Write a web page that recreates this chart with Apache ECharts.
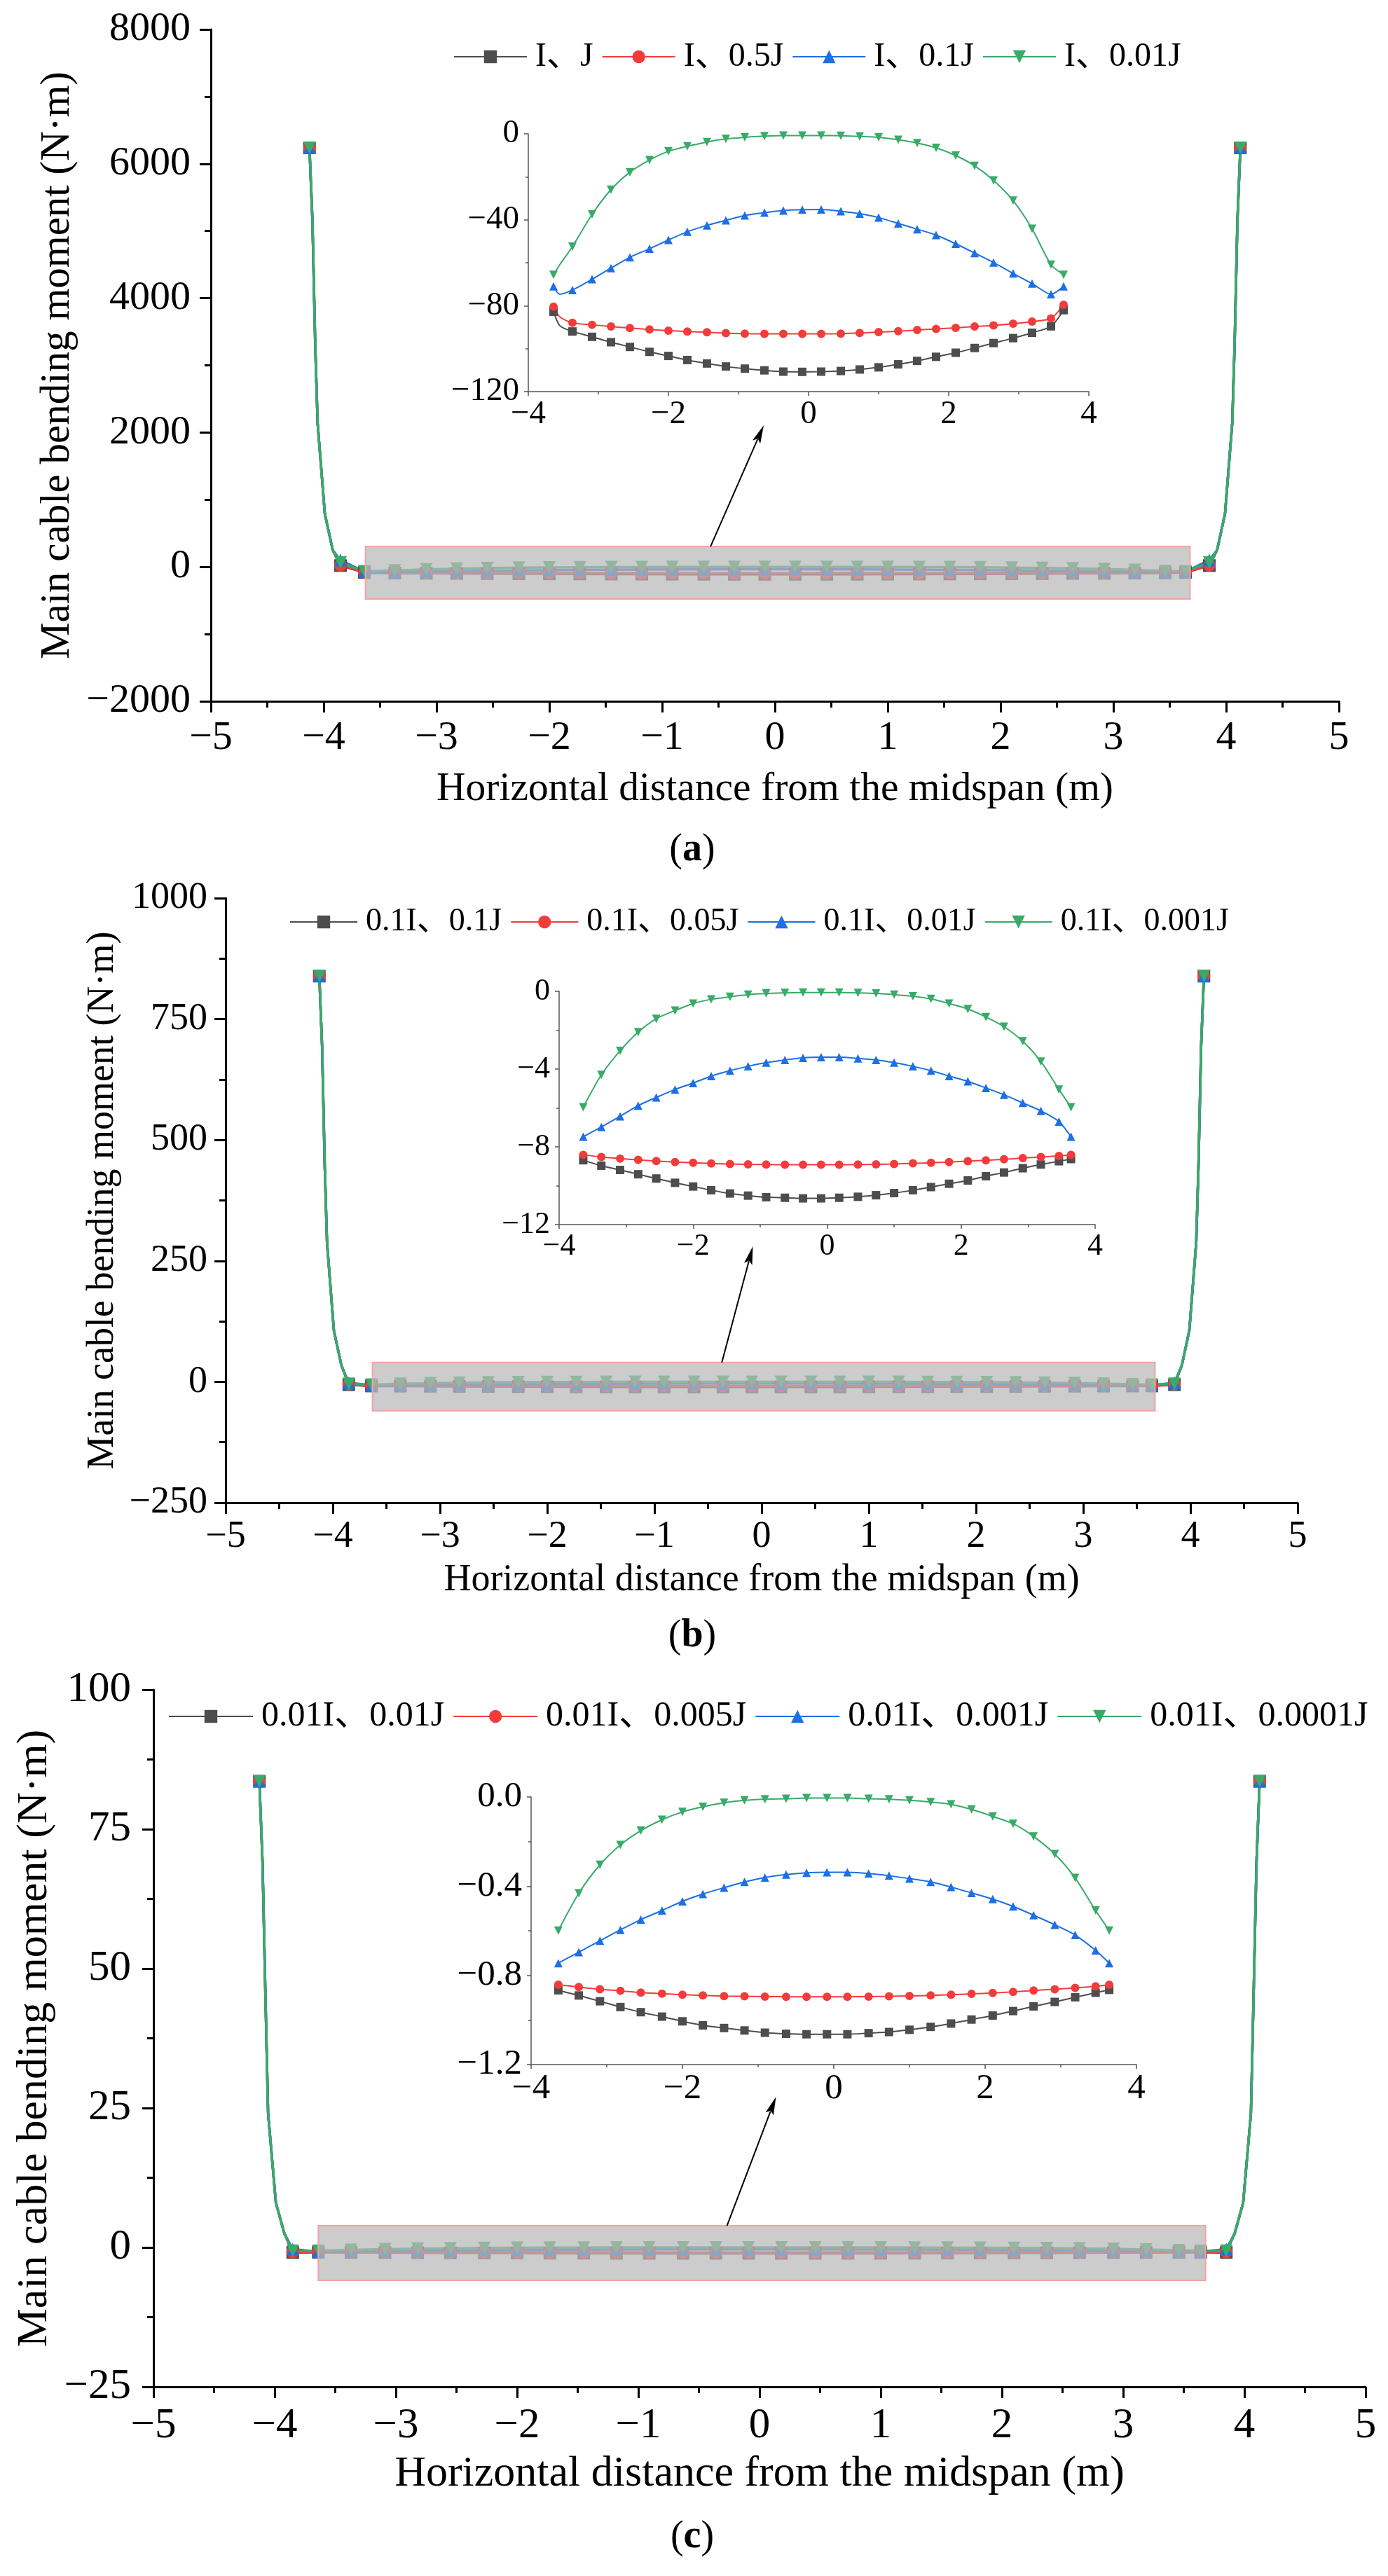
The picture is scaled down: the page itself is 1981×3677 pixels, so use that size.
<!DOCTYPE html>
<html>
<head>
<meta charset="utf-8">
<script src="https://cdn.jsdelivr.net/npm/echarts@6/dist/echarts.min.js"></script>
<style>
html, body { margin: 0; padding: 0; background: #fff; }
#chart { width: 1981px; height: 3677px; }
</style>
</head>
<body>
<div id="chart"></div>
<script>
// node positions along the span (m), shared by panels b and c
const xNodes = [-3.64, -3.37, -3.09, -2.82, -2.55, -2.27, -2.00, -1.73, -1.45, -1.18, -0.91, -0.63, -0.36, -0.09,
                0.18, 0.46, 0.73, 1.00, 1.28, 1.55, 1.82, 2.10, 2.37, 2.64, 2.92, 3.19, 3.46, 3.64];
// panel a has one extra (unmarked) point read near the left end
const xNodesA = [-3.64, -3.55, -3.37, -3.09, -2.82, -2.55, -2.27, -2.00, -1.73, -1.45, -1.18, -0.91, -0.63, -0.36, -0.09,
                 0.18, 0.46, 0.73, 1.00, 1.28, 1.55, 1.82, 2.10, 2.37, 2.64, 2.92, 3.19, 3.46, 3.64];
// steep end parts of the main curves
const xEdgeL = [-4.126, -4.10, -4.075, -4.054, -3.99, -3.92, -3.851];
const xEdgeR = [3.851, 3.92, 3.99, 4.054, 4.075, 4.10, 4.126];
const markedEnds = [-4.126, -3.851, 3.851, 4.126];

// ---- panel (a)
const aNames = ['I、J', 'I、0.5J', 'I、0.1J', 'I、0.01J'];
const aEdge = [6237, 5160, 3300, 2140, 790, 250];
const aNear = [20, 25, 100, 65];
const aIJ = [-82.8, -89.3, -92.0, -94.5, -97.0, -99.2, -101.5, -103.4, -105.3, -106.9, -108.3, -109.3, -110.1, -110.7, -110.8,
             -110.7, -110.4, -109.7, -108.7, -107.3, -105.7, -103.8, -101.9, -99.7, -97.4, -95.1, -92.6, -89.6, -82.1];
const aI05J = [-80.5, -85.2, -88.0, -88.9, -89.7, -90.4, -91.1, -91.6, -92.0, -92.4, -92.8, -93.0, -93.1, -93.1, -93.1,
               -93.1, -93.0, -92.7, -92.3, -91.9, -91.3, -90.8, -90.3, -89.7, -89.2, -88.4, -87.4, -85.9, -79.6];
const aI01J = [-71.0, -74.7, -72.7, -67.7, -62.5, -57.5, -53.5, -49.4, -45.6, -42.6, -40.3, -38.0, -36.7, -35.7, -35.3,
               -35.2, -36.0, -37.2, -39.0, -41.7, -44.4, -47.1, -51.2, -55.5, -59.9, -65.0, -69.7, -74.7, -71.0];
const aI001J = [-65.6, -60.9, -52.5, -37.5, -26.0, -17.9, -12.2, -8.1, -5.8, -3.8, -2.4, -1.6, -1.1, -0.8, -0.8,
                -0.8, -0.9, -1.2, -1.6, -2.8, -4.3, -6.5, -10.1, -14.9, -21.7, -31.1, -44.2, -60.9, -65.6];
const aBox = [-3.63, 3.68, -478, 304];
const aArrow = [-0.571, 304, -0.099, 2108];

// ---- panel (b)
const bNames = ['0.1I、0.1J', '0.1I、0.05J', '0.1I、0.01J', '0.1I、0.001J'];
const bEdge = [839, 694, 444, 288, 106, 34];
const bNear = [-6, -5, -2, -4];
const b01I01J = [-8.69, -8.97, -9.19, -9.41, -9.63, -9.85, -10.04, -10.23, -10.40, -10.51, -10.59, -10.62, -10.65, -10.65,
                 -10.62, -10.57, -10.49, -10.38, -10.23, -10.07, -9.90, -9.73, -9.51, -9.32, -9.10, -8.91, -8.74, -8.63];
const b01I005J = [-8.41, -8.52, -8.60, -8.67, -8.73, -8.78, -8.82, -8.86, -8.88, -8.90, -8.91, -8.92, -8.92, -8.92,
                  -8.92, -8.91, -8.90, -8.88, -8.85, -8.82, -8.78, -8.74, -8.69, -8.64, -8.58, -8.52, -8.47, -8.41];
const b01I001J = [-7.48, -6.98, -6.43, -5.88, -5.46, -5.05, -4.72, -4.36, -4.08, -3.86, -3.67, -3.53, -3.42, -3.39,
                  -3.39, -3.45, -3.53, -3.67, -3.86, -4.08, -4.36, -4.63, -4.97, -5.32, -5.74, -6.15, -6.70, -7.48];
const b01I0001J = [-5.96, -4.30, -3.06, -2.10, -1.41, -0.99, -0.63, -0.41, -0.28, -0.17, -0.11, -0.08, -0.06, -0.06,
                   -0.06, -0.08, -0.11, -0.17, -0.25, -0.39, -0.63, -0.91, -1.32, -1.82, -2.57, -3.61, -5.05, -5.96];
const bBox = [-3.63, 3.67, -60, 40];
const bArrow = [-0.371, 40, -0.082, 280];

// ---- panel (c)
const cNames = ['0.01I、0.01J', '0.01I、0.005J', '0.01I、0.001J', '0.01I、0.0001J'];
const cEdge = [83.6, 69, 44, 24, 8, 2.5];
const cNear = [-0.9, -0.8, -0.3, -0.6];
const c001I001J = [-0.867, -0.890, -0.916, -0.942, -0.965, -0.985, -1.006, -1.024, -1.036, -1.047, -1.057, -1.062, -1.064, -1.064,
                   -1.064, -1.059, -1.054, -1.044, -1.031, -1.016, -0.998, -0.980, -0.960, -0.939, -0.919, -0.898, -0.878, -0.865];
const c001I0005J = [-0.842, -0.852, -0.862, -0.869, -0.877, -0.882, -0.887, -0.890, -0.893, -0.894, -0.895, -0.896, -0.896, -0.896,
                    -0.896, -0.895, -0.894, -0.892, -0.890, -0.887, -0.883, -0.879, -0.874, -0.868, -0.862, -0.856, -0.849, -0.842];
const c001I0001J = [-0.745, -0.696, -0.645, -0.596, -0.550, -0.509, -0.468, -0.435, -0.407, -0.381, -0.361, -0.348, -0.340, -0.338,
                    -0.338, -0.343, -0.353, -0.366, -0.381, -0.404, -0.430, -0.458, -0.491, -0.530, -0.573, -0.619, -0.688, -0.745];
const c001I00001J = [-0.599, -0.432, -0.304, -0.215, -0.151, -0.102, -0.067, -0.044, -0.026, -0.015, -0.010, -0.008, -0.005, -0.005,
                     -0.005, -0.008, -0.010, -0.015, -0.023, -0.033, -0.056, -0.087, -0.120, -0.177, -0.256, -0.363, -0.509, -0.599];
const cBox = [-3.64, 3.68, -5.9, 3.9];
const cArrow = [-0.268, 3.9, 0.136, 27.0];

const COLORS = ['#4d4d4d', '#f23c3c', '#1c6fe4', '#38ab68'];
const SYMBOLS = ['rect', 'circle', 'triangle', 'triangle'];
const ROTATE = [0, 0, 0, 180];
const FONT = "'Liberation Serif', 'Noto Sans CJK SC', serif";

const marked = new Set(xNodes.concat(markedEnds));

function minus(v) { return v < 0 ? '\u2212' + Math.abs(v) : String(v); }
function minus1(v) { var s = Math.abs(v).toFixed(1); return v < -1e-9 ? '\u2212' + s : s; }

const panels = [
    { names: aNames, xIn: xNodesA, ys: [aIJ, aI05J, aI01J, aI001J], edge: aEdge, near: aNear, box: aBox, arrow: aArrow,
      main: { left: 301, top: 42, width: 1610, height: 959 }, inset: { left: 754, top: 191, width: 800, height: 368 },
      yMain: [-2000, 8000, 2000], yIn: [-120, 0, 40], inFmt: minus,
      tick: 58, xTitle: 57.5, yTitle: 59, inFont: 47, legFont: 48,
      gapX: 97, gapY: 180, marginX: 24, marginY: 29,
      legend: { left: 647, top: 57, itemWidth: 104 }, label: { t: 'a', y: 1214 } },
    { names: bNames, xIn: xNodes, ys: [b01I01J, b01I005J, b01I001J, b01I0001J], edge: bEdge, near: bNear, box: bBox, arrow: bArrow,
      main: { left: 322, top: 1282, width: 1530, height: 863 }, inset: { left: 798, top: 1415, width: 765, height: 333 },
      yMain: [-250, 1000, 250], yIn: [-12, 0, 4], inFmt: minus,
      tick: 54, xTitle: 54, yTitle: 54, inFont: 44, legFont: 46,
      gapX: 84, gapY: 143, marginX: 22, marginY: 26,
      legend: { left: 413, top: 1293, itemWidth: 96 }, label: { t: 'b', y: 2336 } },
    { names: cNames, xIn: xNodes, ys: [c001I001J, c001I0005J, c001I0001J, c001I00001J], edge: cEdge, near: cNear, box: cBox, arrow: cArrow,
      main: { left: 219, top: 2412, width: 1730, height: 995 }, inset: { left: 758, top: 2565, width: 864, height: 382 },
      yMain: [-25, 100, 25], yIn: [-1.2, 0, 0.4], inFmt: minus1,
      tick: 61, xTitle: 62, yTitle: 62, inFont: 51, legFont: 50,
      gapX: 94, gapY: 135, marginX: 25, marginY: 32,
      legend: { left: 240, top: 2425, itemWidth: 120 }, label: { t: 'c', y: 3622 } }
];

const grid = [], xAxis = [], yAxis = [], series = [], legend = [], graphic = [];

function mainAxisStyle(w, len, minorLen) {
    return {
        axisLine: { onZero: false, lineStyle: { color: '#000', width: w } },
        axisTick: { show: true, inside: false, length: len, lineStyle: { color: '#000', width: w } },
        minorTick: { show: true, splitNumber: 2, length: minorLen, lineStyle: { color: '#000', width: w } },
        splitLine: { show: false },
        minorSplitLine: { show: false }
    };
}

panels.forEach(function (p, k) {
    const gMain = grid.length;
    grid.push(Object.assign({ containLabel: false }, p.main));
    const gIn = grid.length;
    grid.push(Object.assign({ containLabel: false }, p.inset));

    // main axes
    xAxis.push(Object.assign({
        type: 'value', gridIndex: gMain, min: -5, max: 5, interval: 1,
        name: 'Horizontal distance from the midspan (m)', nameLocation: 'middle', nameGap: p.gapX,
        nameTextStyle: { fontFamily: FONT, fontSize: p.xTitle, color: '#000' },
        axisLabel: { fontFamily: FONT, fontSize: p.tick, color: '#000', margin: p.marginX, formatter: minus }
    }, mainAxisStyle(3, 16, 9)));
    yAxis.push(Object.assign({
        type: 'value', gridIndex: gMain, min: p.yMain[0], max: p.yMain[1], interval: p.yMain[2],
        name: 'Main cable bending moment (N\u00b7m)', nameLocation: 'middle', nameGap: p.gapY,
        nameTextStyle: { fontFamily: FONT, fontSize: p.yTitle, color: '#000' },
        axisLabel: { fontFamily: FONT, fontSize: p.tick, color: '#000', margin: p.marginY, formatter: minus }
    }, mainAxisStyle(3, 16, 9)));

    // inset axes
    const inStyle = {
        axisLine: { onZero: false, lineStyle: { color: '#555', width: 1.5 } },
        axisTick: { show: true, inside: false, length: 6, lineStyle: { color: '#555', width: 1.5 } },
        minorTick: { show: true, splitNumber: 2, length: 4, lineStyle: { color: '#555', width: 1.5 } },
        splitLine: { show: false }
    };
    xAxis.push(Object.assign({
        type: 'value', gridIndex: gIn, min: -4, max: 4, interval: 2,
        axisLabel: { fontFamily: FONT, fontSize: p.inFont, color: '#000', margin: 9, formatter: minus }
    }, inStyle));
    yAxis.push(Object.assign({
        type: 'value', gridIndex: gIn, min: p.yIn[0], max: p.yIn[1], interval: p.yIn[2],
        axisLabel: { fontFamily: FONT, fontSize: p.inFont, color: '#000', margin: 13, formatter: p.inFmt }
    }, inStyle));

    p.names.forEach(function (name, i) {
        const inData = p.xIn.map(function (x, j) { return [x, p.ys[i][j]]; });
        const left = xEdgeL.map(function (x, j) { return [x, j < p.edge.length ? p.edge[j] : p.near[i]]; });
        const right = xEdgeR.map(function (x, j) {
            const idx = xEdgeR.length - 1 - j;
            return [x, idx < p.edge.length ? p.edge[idx] : p.near[i]];
        });
        const common = {
            type: 'line', name: name, symbol: SYMBOLS[i], symbolRotate: ROTATE[i], showSymbol: true,
            color: COLORS[i], itemStyle: { color: COLORS[i] }, emphasis: { disabled: true }
        };
        series.push(Object.assign({}, common, {
            xAxisIndex: gMain, yAxisIndex: gMain,
            data: left.concat(inData, right),
            symbolSize: function (v) { return marked.has(v[0]) ? 18 : 0; },
            lineStyle: { color: COLORS[i], width: 3.5 }, z: 2
        }));
        series.push(Object.assign({}, common, {
            xAxisIndex: gIn, yAxisIndex: gIn,
            data: inData,
            symbolSize: function (v) { return marked.has(v[0]) ? 12 : 0; },
            lineStyle: { color: COLORS[i], width: 2 }, smooth: 0.25, z: 2
        }));
    });

    // shaded zoom box drawn over the main curves
    series.push({
        type: 'custom', xAxisIndex: gMain, yAxisIndex: gMain, z: 5, silent: true,
        data: [p.box], encode: { x: [0, 1], y: [2, 3] },
        renderItem: function (params, api) {
            const a = api.coord([api.value(0), api.value(3)]);
            const b = api.coord([api.value(1), api.value(2)]);
            return {
                type: 'rect',
                shape: { x: a[0], y: a[1], width: b[0] - a[0], height: b[1] - a[1] },
                style: { fill: 'rgba(185,185,185,0.72)', stroke: '#f3a3a3', lineWidth: 2 }
            };
        }
    });
    // arrow from the box to the inset
    series.push({
        type: 'custom', xAxisIndex: gMain, yAxisIndex: gMain, z: 6, silent: true,
        data: [p.arrow], encode: { x: [0, 2], y: [1, 3] },
        renderItem: function (params, api) {
            const s = api.coord([api.value(0), api.value(1)]);
            const e = api.coord([api.value(2), api.value(3)]);
            const dx = e[0] - s[0], dy = e[1] - s[1];
            const L = Math.sqrt(dx * dx + dy * dy);
            const ux = dx / L, uy = dy / L, nx = -uy, ny = ux;
            const hl = 26, hw = 6;
            const bx = e[0] - ux * hl, by = e[1] - uy * hl;
            return {
                type: 'group',
                children: [
                    { type: 'line', shape: { x1: s[0], y1: s[1], x2: bx + ux * 4, y2: by + uy * 4 },
                      style: { stroke: '#000', lineWidth: 2 } },
                    { type: 'polygon',
                      shape: { points: [[e[0], e[1]], [bx + nx * hw, by + ny * hw], [e[0] - ux * 21, e[1] - uy * 21], [bx - nx * hw, by - ny * hw]] },
                      style: { fill: '#000' } }
                ]
            };
        }
    });

    legend.push({
        data: p.names, left: p.legend.left, top: p.legend.top, orient: 'horizontal', padding: 0,
        itemWidth: p.legend.itemWidth, itemHeight: 23, itemGap: 12, selectedMode: false,
        textStyle: { fontFamily: FONT, fontSize: p.legFont, color: '#000', padding: [0, 0, 0, 7] }
    });

    graphic.push({
        type: 'text', x: 988, y: p.label.y, silent: true,
        style: {
            text: '({b|' + p.label.t + '})', fill: '#000', font: '56px "Liberation Serif"',
            align: 'center', verticalAlign: 'middle',
            rich: { b: { fontWeight: 'bold', fontSize: 56, fontFamily: 'Liberation Serif' } }
        }
    });
});

const chart = echarts.init(document.getElementById('chart'), null, { renderer: 'canvas' });
chart.setOption({
    animation: false,
    backgroundColor: '#fff',
    grid: grid,
    xAxis: xAxis,
    yAxis: yAxis,
    legend: legend,
    series: series,
    graphic: graphic
});
</script>
</body>
</html>
